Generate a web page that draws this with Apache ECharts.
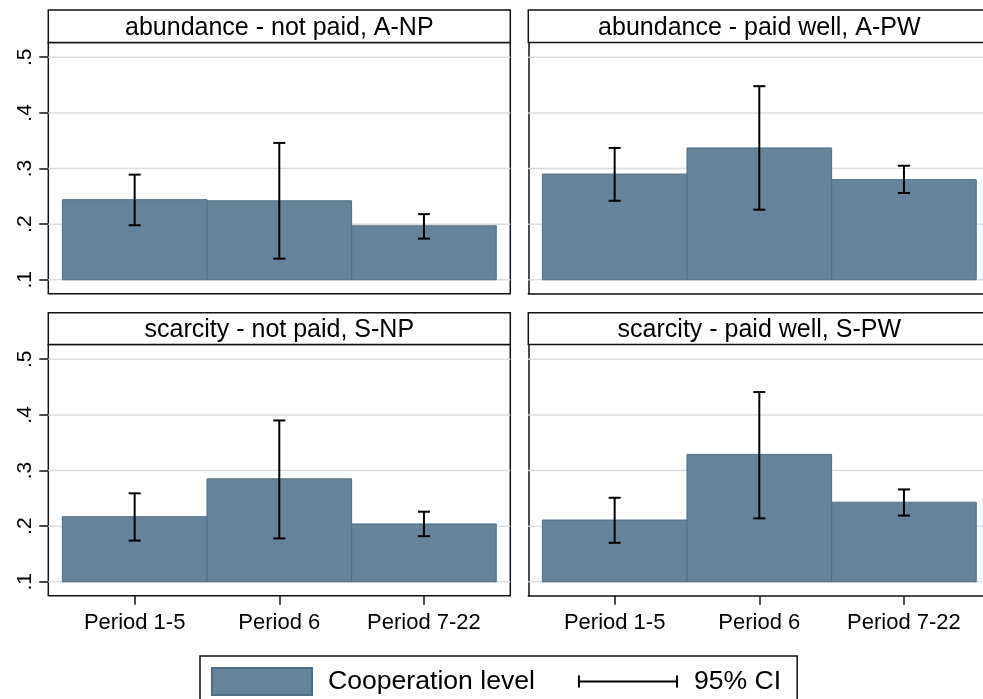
<!DOCTYPE html>
<html>
<head>
<meta charset="utf-8">
<script src="https://cdn.jsdelivr.net/npm/echarts@6/dist/echarts.min.js"></script>
<style>
html,body{margin:0;padding:0;background:#fff;}
#chart{width:983px;height:699px;}
</style>
</head>
<body>
<div id="chart"></div>
<script>
// ---------- data ----------
const categories = ['Period 1-5', 'Period 6', 'Period 7-22'];
const panelTitles = [
  'abundance - not paid, A-NP',
  'abundance - paid well, A-PW',
  'scarcity - not paid, S-NP',
  'scarcity - paid well, S-PW'
];
const coopANP = [0.244, 0.242, 0.197];
const ciLowANP = [0.198, 0.138, 0.174];
const ciHighANP = [0.289, 0.346, 0.218];

const coopAPW = [0.290, 0.337, 0.280];
const ciLowAPW = [0.242, 0.226, 0.256];
const ciHighAPW = [0.337, 0.448, 0.305];

const coopSNP = [0.217, 0.285, 0.204];
const ciLowSNP = [0.174, 0.178, 0.182];
const ciHighSNP = [0.259, 0.390, 0.226];

const coopSPW = [0.211, 0.329, 0.243];
const ciLowSPW = [0.170, 0.214, 0.219];
const ciHighSPW = [0.251, 0.441, 0.266];

const yTickValues = [0.1, 0.2, 0.3, 0.4, 0.5];
const yTickLabels = ['.1', '.2', '.3', '.4', '.5'];
const barBase = 0.1;
const seriesNames = ['Cooperation level', '95% CI'];

// ---------- style / layout ----------
const FONT = "'Liberation Sans', Arial, Helvetica, sans-serif";
const BAR_COLOR = '#658399';
const BAR_EDGE = '#4f6f87';
const GRID_COLOR = '#dddddd';
const FRAME = '#111';
const panels = [
  {coop: coopANP, lo: ciLowANP, hi: ciHighANP, left: 48.3, top: 42.5, stripTop: 10, row: 0, col: 0},
  {coop: coopAPW, lo: ciLowAPW, hi: ciHighAPW, left: 528.3, top: 42.5, stripTop: 10, row: 0, col: 1},
  {coop: coopSNP, lo: ciLowSNP, hi: ciHighSNP, left: 48.3, top: 344.5, stripTop: 312.7, row: 1, col: 0},
  {coop: coopSPW, lo: ciLowSPW, hi: ciHighSPW, left: 528.3, top: 344.5, stripTop: 312.7, row: 1, col: 1}
];
const PW = 462, PH = 251.3;
const X_MIN = 0.403, X_MAX = 3.597;
const Y_MIN = 0.0748, Y_MAX = 0.5265;
const CANVAS_W = 983;

const grids = [], xAxes = [], yAxes = [], series = [], graphics = [];

panels.forEach((p, i) => {
  const rightCol = p.col === 1;
  // right column is cropped by the image edge
  const w = rightCol ? (CANVAS_W - p.left) : PW;
  const xMax = X_MIN + (X_MAX - X_MIN) * w / PW;
  grids.push({
    left: p.left, top: p.top, width: w, height: PH,
    show: !rightCol, borderColor: FRAME, borderWidth: 1.5, backgroundColor: '#fff'
  });
  const bottomRow = p.row === 1;
  xAxes.push({
    gridIndex: i, type: 'value', min: X_MIN, max: xMax,
    axisLine: {show: rightCol, onZero: false, lineStyle: {color: FRAME, width: 1.5}},
    splitLine: {show: false},
    axisTick: {show: bottomRow, customValues: [1, 2, 3], length: 9, lineStyle: {color: FRAME, width: 1.5}},
    axisLabel: {
      show: bottomRow, customValues: [1, 2, 3], margin: 16,
      formatter: v => categories[Math.round(v) - 1] || '',
      fontFamily: FONT, fontSize: 22, color: '#000'
    }
  });
  yAxes.push({
    gridIndex: i, type: 'value', min: Y_MIN, max: Y_MAX,
    axisLine: {show: rightCol, onZero: false, lineStyle: {color: FRAME, width: 1.5}},
    splitLine: {show: false},
    axisTick: {show: !rightCol, customValues: yTickValues, length: 9, lineStyle: {color: FRAME, width: 1.5}},
    axisLabel: {
      show: !rightCol, customValues: yTickValues, rotate: 90, margin: 13,
      formatter: v => yTickLabels[yTickValues.findIndex(t => Math.abs(t - v) < 1e-6)] || '',
      fontFamily: FONT, fontSize: 21, color: '#000'
    }
  });
  // gridlines (behind bars)
  series.push({
    type: 'custom', xAxisIndex: i, yAxisIndex: i, z: 1, silent: true,
    encode: {x: 0, y: 1},
    data: yTickValues.map(v => [1, v]),
    renderItem: (params, api) => {
      const cs = params.coordSys;
      const y = api.coord([1, api.value(1)])[1];
      return {
        type: 'line',
        shape: {x1: cs.x, y1: y, x2: cs.x + cs.width, y2: y},
        style: {stroke: GRID_COLOR, lineWidth: 1.5}
      };
    }
  });
  // bars
  series.push({
    type: 'custom', name: seriesNames[0], xAxisIndex: i, yAxisIndex: i, z: 2,
    itemStyle: {color: BAR_COLOR, borderColor: BAR_EDGE, borderWidth: 1},
    encode: {x: 0, y: 1},
    data: p.coop.map((v, k) => [k + 1, v]),
    renderItem: (params, api) => {
      const x = api.value(0), v = api.value(1);
      const a = api.coord([x - 0.5, v]);
      const b = api.coord([x + 0.5, barBase]);
      return {
        type: 'rect',
        shape: {x: a[0], y: a[1], width: b[0] - a[0], height: b[1] - a[1]},
        style: {fill: BAR_COLOR, stroke: BAR_EDGE, lineWidth: 1}
      };
    }
  });
  // error bars
  series.push({
    type: 'custom', name: seriesNames[1], xAxisIndex: i, yAxisIndex: i, z: 3,
    itemStyle: {color: '#000'},
    encode: {x: 0, y: [1, 2]},
    data: p.lo.map((lo, k) => [k + 1, lo, p.hi[k]]),
    renderItem: (params, api) => {
      const x = api.value(0);
      const lo = api.coord([x, api.value(1)]);
      const hi = api.coord([x, api.value(2)]);
      const cw = 6;
      const st = {stroke: '#000', lineWidth: 2};
      return {
        type: 'group',
        children: [
          {type: 'line', shape: {x1: lo[0], y1: lo[1], x2: hi[0], y2: hi[1]}, style: st},
          {type: 'line', shape: {x1: hi[0] - cw, y1: hi[1], x2: hi[0] + cw, y2: hi[1]}, style: st},
          {type: 'line', shape: {x1: lo[0] - cw, y1: lo[1], x2: lo[0] + cw, y2: lo[1]}, style: st}
        ]
      };
    }
  });
  // strip
  graphics.push({
    type: 'rect', z: 10,
    shape: {x: p.left, y: p.stripTop, width: PW, height: p.top - p.stripTop},
    style: {fill: '#fff', stroke: FRAME, lineWidth: 1.5}
  });
  graphics.push({
    type: 'text', z: 11,
    x: p.left + PW / 2, y: (p.stripTop + p.top) / 2 + 1.5,
    style: {
      text: panelTitles[i], fill: '#000', fontFamily: FONT, fontSize: 25,
      align: 'center', verticalAlign: 'middle', textAlign: 'center', textVerticalAlign: 'middle'
    }
  });
});

const chart = echarts.init(document.getElementById('chart'), null, {renderer: 'canvas'});
chart.setOption({
  animation: false,
  backgroundColor: '#fff',
  grid: grids,
  xAxis: xAxes,
  yAxis: yAxes,
  series: series,
  graphic: graphics,
  legend: {
    left: 200, top: 656,
    padding: [11, 16, 12, 11],
    borderColor: FRAME, borderWidth: 1.5, borderRadius: 0,
    backgroundColor: '#fff',
    itemWidth: 100, itemHeight: 27, itemGap: 43,
    selectedMode: false,
    textStyle: {fontFamily: FONT, fontSize: 26.6, color: '#000', padding: [0, 0, 0, 11]},
    data: [
      {name: seriesNames[0], icon: 'rect'},
      {name: seriesNames[1], icon: 'path://M0,0 L2,0 L2,5 L100,5 L100,0 L102,0 L102,12 L100,12 L100,7 L2,7 L2,12 L0,12 Z'}
    ]
  }
});
</script>
</body>
</html>
